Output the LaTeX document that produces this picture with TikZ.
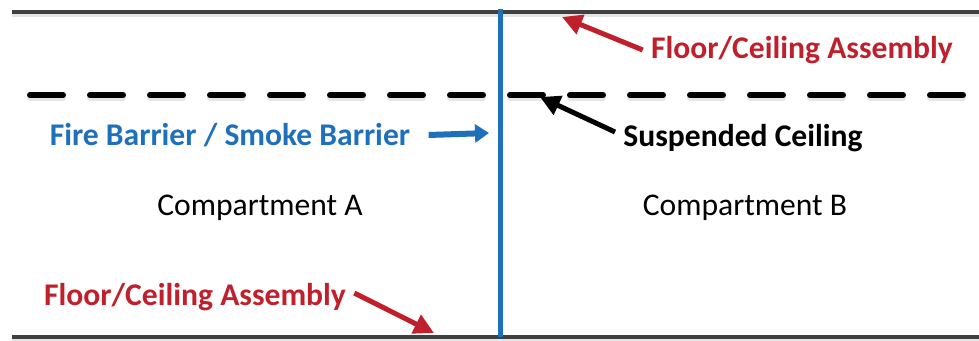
\documentclass[tikz,border=0pt]{standalone}
\usepackage{fontspec}
\setmainfont{Carlito}
\usetikzlibrary{arrows.meta}

\definecolor{slabgray}{RGB}{64,64,64}
\definecolor{wallblue}{RGB}{30,112,186}
\definecolor{notered}{RGB}{192,32,44}

\begin{document}
\begin{tikzpicture}[x=0.5pt,y=-0.5pt,
  slab/.style={draw=slabgray,line width=2.4pt},
  shade/.style={draw=black!10,line width=2.4pt},
  ceiling/.style={draw=black,line width=3pt,line cap=round,dash pattern=on 16.5pt off 13.5pt},
  redlabel/.style={text=notered,font=\fontsize{15.8}{18}\selectfont\bfseries,inner sep=4pt},
  bluelabel/.style={text=wallblue,font=\fontsize{15.8}{18}\selectfont\bfseries,inner sep=4pt},
  blacklabel/.style={text=black,font=\fontsize{15.8}{18}\selectfont\bfseries,inner sep=4pt},
  room/.style={font=\fontsize{15.8}{18}\selectfont},
  redarrow/.style={draw=notered,line width=2.5pt,-{Triangle[length=10pt,width=10pt]}},
  bluearrow/.style={draw=wallblue,line width=3pt,-{Triangle[length=7pt,width=9pt]}},
  blackarrow/.style={draw=black,line width=2.5pt,-{Triangle[length=10pt,width=10pt]}}]

  \useasboundingbox (0,0) rectangle (979,341);

  % end points of the lines
  \coordinate (tl) at (12,12);
  \coordinate (tr) at (979,12);
  \coordinate (bl) at (12,337);
  \coordinate (br) at (979,337);
  \coordinate (cl) at (30,95);
  \coordinate (cr) at (979,95);
  \coordinate (wt) at (500,9);
  \coordinate (wb) at (500,337);

  % soft shadows under the lines
  \draw[shade] ([yshift=-1.5pt]tl) -- ([yshift=-1.5pt]tr);
  \draw[shade] ([yshift=-1.5pt]bl) -- ([yshift=-1.5pt]br);
  \draw[shade,line width=3pt,line cap=round,dash pattern=on 16.5pt off 13.5pt] ([yshift=-1.5pt]cl) -- ([yshift=-1.5pt]cr);

  % floors, ceiling and wall
  \draw[slab] (tl) -- (tr);
  \draw[slab] (bl) -- (br);
  \draw[ceiling] (cl) -- (cr);
  \draw[draw=wallblue,line width=2.5pt] (wt) -- (wb);

  % labels
  \node[redlabel] (fcup) at (802,50) {Floor/Ceiling Assembly};
  \node[redlabel] (fcdown) at (195,297) {Floor/Ceiling Assembly};
  \node[bluelabel] (fb) at (230,135) {Fire Barrier / Smoke Barrier};
  \node[blacklabel] (sc) at (743,138) {Suspended Ceiling};
  \node[room] (ca) at (260,208) {Compartment A};
  \node[room] (cb) at (745,208) {Compartment B};

  % arrow tips
  \coordinate (fcupt) at (562,17);
  \coordinate (fcdownt) at (434,333);
  \coordinate (fbt) at (489,133);
  \coordinate (sct) at (540,97);

  \draw[redarrow] (fcup.west) -- (fcupt);
  \draw[redarrow] ([yshift=2pt]fcdown.east) -- (fcdownt);
  \draw[bluearrow] ([xshift=5pt]fb.east) -- (fbt);
  \draw[blackarrow] ([yshift=3pt]sc.west) -- (sct);
\end{tikzpicture}
\end{document}
